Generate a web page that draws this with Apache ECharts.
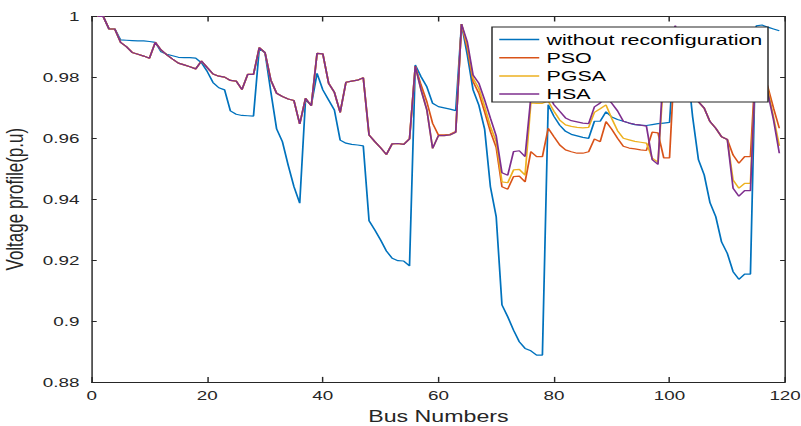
<!DOCTYPE html>
<html>
<head>
<meta charset="utf-8">
<script src="https://cdn.jsdelivr.net/npm/echarts@6/dist/echarts.min.js"></script>
<style>
html,body{margin:0;padding:0;background:#fff;overflow:hidden;}
#wrap{width:801px;height:426px;overflow:hidden;position:relative;}
#chart{position:absolute;left:0;top:0;height:426px;transform-origin:0 0;}
</style>
</head>
<body>
<div id="wrap"><div id="chart"></div></div>
<script>
// ---------------- data ----------------
const seriesNames = ["without reconfiguration", "PSO", "PGSA", "HSA"];
const xTicks = [0, 20, 40, 60, 80, 100, 120];
const yTicks = [0.88, 0.9, 0.92, 0.94, 0.96, 0.98, 1];

// buses 1..56: the three reconfigured profiles coincide
const common_1_56 = [
1.0000,1.0000,0.9959,0.9959,0.9915,0.9901,0.9882,0.9876,0.9870,0.9863,
0.9915,0.9890,0.9874,0.9860,0.9847,0.9841,0.9835,0.9828,0.9854,0.9832,
0.9811,0.9804,0.9801,0.9790,0.9788,0.9760,0.9810,0.9810,0.9898,0.9881,
0.9791,0.9748,0.9737,0.9729,0.9724,0.9647,0.9731,0.9707,0.9879,0.9877,
0.9781,0.9751,0.9685,0.9784,0.9788,0.9791,0.9799,0.9611,0.9589,0.9569,
0.9547,0.9582,0.9583,0.9580,0.9598,0.9837];

const withoutReconfig = [
1.0000,1.0000,0.9959,0.9959,0.9923,0.9922,0.9921,0.9920,0.9920,0.9918,
0.9915,0.9884,0.9876,0.9871,0.9866,0.9865,0.9865,0.9863,0.9848,0.9819,
0.9783,0.9766,0.9759,0.9690,0.9679,0.9675,0.9674,0.9673,0.9895,0.9881,
0.9753,0.9631,0.9589,0.9512,0.9441,0.9387,0.9726,0.9709,0.9813,0.9759,
0.9726,0.9693,0.9594,0.9584,0.9580,0.9578,0.9575,0.9329,0.9299,0.9266,
0.9230,0.9206,0.9198,0.9197,0.9181,0.9841,0.9802,0.9769,0.9715,0.9704,
0.9700,0.9696,0.9691,0.9975,0.9874,0.9759,0.9709,0.9630,0.9441,0.9343,
0.9053,0.9014,0.8970,0.8932,0.8910,0.8902,0.8888,0.8888,0.9710,0.9672,
0.9643,0.9623,0.9613,0.9608,0.9603,0.9600,0.9656,0.9656,0.9687,0.9670,
0.9662,0.9656,0.9650,0.9645,0.9643,0.9642,0.9645,0.9648,0.9650,0.9652,
0.9950,0.9930,0.9850,0.9670,0.9530,0.9480,0.9389,0.9343,0.9260,0.9222,
0.9162,0.9137,0.9154,0.9154,0.9969,0.9972,0.9965,0.9959,0.9953];

const pso_57_119 = [
0.9775,0.9720,0.9649,0.9611,0.9611,0.9613,0.9622,0.9975,0.9896,0.9786,
0.9748,0.9687,0.9622,0.9570,0.9441,0.9433,0.9474,0.9476,0.9457,0.9556,
0.9540,0.9540,0.9633,0.9605,0.9578,0.9562,0.9556,0.9551,0.9551,0.9556,
0.9598,0.9589,0.9655,0.9630,0.9600,0.9574,0.9568,0.9565,0.9562,0.9560,
0.9620,0.9618,0.9536,0.9536,0.9900,0.9880,0.9830,0.9770,0.9720,0.9699,
0.9655,0.9633,0.9605,0.9596,0.9545,0.9518,0.9540,0.9540,0.9880,0.9830,
0.9770,0.9699,0.9633];

const pgsa_57_119 = [
0.9759,0.9693,0.9567,0.9609,0.9609,0.9611,0.9620,0.9975,0.9906,0.9797,
0.9764,0.9704,0.9638,0.9590,0.9457,0.9454,0.9496,0.9498,0.9479,0.9716,
0.9715,0.9715,0.9722,0.9689,0.9660,0.9644,0.9639,0.9636,0.9634,0.9636,
0.9685,0.9697,0.9710,0.9665,0.9625,0.9600,0.9595,0.9590,0.9587,0.9584,
0.9535,0.9522,0.9800,0.9880,0.9900,0.9880,0.9830,0.9770,0.9720,0.9699,
0.9655,0.9633,0.9605,0.9596,0.9463,0.9436,0.9452,0.9452,0.9880,0.9830,
0.9760,0.9670,0.9575];

const hsa_57_119 = [
0.9759,0.9693,0.9567,0.9609,0.9609,0.9611,0.9620,0.9975,0.9917,0.9808,
0.9781,0.9726,0.9666,0.9608,0.9487,0.9479,0.9556,0.9559,0.9540,0.9735,
0.9735,0.9735,0.9745,0.9710,0.9689,0.9667,0.9658,0.9654,0.9650,0.9648,
0.9703,0.9716,0.9735,0.9715,0.9690,0.9656,0.9650,0.9646,0.9643,0.9640,
0.9530,0.9514,0.9850,0.9920,0.9970,0.9900,0.9850,0.9780,0.9720,0.9699,
0.9655,0.9633,0.9605,0.9596,0.9436,0.9410,0.9428,0.9428,0.9880,0.9830,
0.9750,0.9660,0.9551];

const pso = common_1_56.concat(pso_57_119);
const pgsa = common_1_56.concat(pgsa_57_119);
const hsa = common_1_56.concat(hsa_57_119);

// ---------------- layout (reference is horizontally stretched) ----------------
const S = 1.45;
const W = 801 / S;
const chartEl = document.getElementById('chart');
chartEl.style.width = W + 'px';
chartEl.style.transform = 'scaleX(' + S + ')';

const colors = ['#0072BD', '#D95319', '#EDB120', '#7E2F8E'];
const axisColor = '#262626';
const font = 'Liberation Sans, Arial, Helvetica, sans-serif';
const toPairs = arr => arr.map((v, i) => [i + 1, v]);

const chart = echarts.init(chartEl, null, {renderer: 'svg'});

const baseX = {
  type: 'value', min: xTicks[0], max: xTicks[xTicks.length - 1], interval: 20,
  axisLine: {show: true, onZero: false, lineStyle: {color: axisColor, width: 1}},
  axisTick: {show: true, inside: true, length: 5, lineStyle: {color: axisColor}},
  splitLine: {show: false}
};
const baseY = {
  type: 'value', min: yTicks[0], max: yTicks[yTicks.length - 1], interval: 0.02,
  axisLine: {show: true, onZero: false, lineStyle: {color: axisColor, width: 1}},
  axisTick: {show: true, inside: true, length: 5 / S, lineStyle: {color: axisColor}},
  splitLine: {show: false}
};

// legend frame (reference pixels)
const legL = 492, legR = 768, legT = 27, legB = 102;

const option = {
  animation: false,
  backgroundColor: '#ffffff',
  textStyle: {fontFamily: font},
  grid: {left: 91.7 / S, right: (801 - 785.7) / S, top: 16.5, bottom: 426 - 381.9,
         containLabel: false, outerBoundsMode: 'none'},
  graphic: [{
    type: 'rect', z: 15, silent: true,
    shape: {x: legL / S, y: legT, width: (legR - legL) / S, height: legB - legT},
    style: {fill: '#ffffff', stroke: axisColor, lineWidth: 1}
  }],
  xAxis: [
    Object.assign({}, baseX, {
      position: 'bottom',
      axisLabel: {show: true, color: axisColor, fontSize: 13, margin: 7, fontFamily: font,
        hideOverlap: false},
      name: 'Bus Numbers', nameLocation: 'middle', nameGap: 26,
      nameTextStyle: {fontSize: 16, color: axisColor, fontFamily: font}
    }),
    Object.assign({}, baseX, {position: 'top', axisLabel: {show: false}})
  ],
  yAxis: [
    Object.assign({}, baseY, {
      position: 'left',
      axisLabel: {show: true, color: axisColor, fontSize: 13, margin: 8.5, fontFamily: font,
        formatter: v => String(+v.toFixed(2))},
      name: 'Voltage profile(p.u)', nameLocation: 'middle', nameGap: 33, nameRotate: 90,
      nameTextStyle: {fontSize: 17, color: axisColor, fontFamily: font}
    }),
    Object.assign({}, baseY, {position: 'right', axisLabel: {show: false}})
  ],
  legend: {
    show: true, orient: 'vertical', left: legL / S, top: legT, z: 20,
    backgroundColor: 'transparent', borderWidth: 0,
    padding: [5, 3, 4, 5], itemGap: 3.2, itemWidth: 40 / S, itemHeight: 1.5,
    icon: 'rect',
    textStyle: {fontSize: 14.8, color: '#000', fontFamily: font, lineHeight: 14},
    data: seriesNames
  },
  series: [withoutReconfig, pso, pgsa, hsa].map((d, k) => ({
    name: seriesNames[k], type: 'line', data: toPairs(d),
    xAxisIndex: 0, yAxisIndex: 0,
    showSymbol: false, symbol: 'none', smooth: false,
    lineStyle: {color: colors[k], width: 1.2},
    itemStyle: {color: colors[k]},
    z: 2
  }))
};
chart.setOption(option);
</script>
</body>
</html>
